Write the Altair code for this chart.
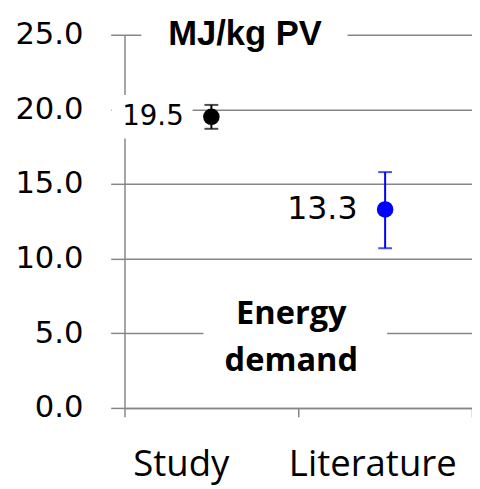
import altair as alt
import pandas as pd

categories = ["Study", "Literature"]
values = [19.5, 13.3]
err_low = [18.7, 10.7]
err_high = [20.3, 15.8]
colors = ["#000000", "#0000FF"]
value_labels = ["19.5", "13.3"]
label_sizes = [28, 32]
y_ticks = [0, 5, 10, 15, 20, 25]
title_text = "MJ/kg PV"
note_text = ["Energy", "demand"]

df = pd.DataFrame({
    "cat": categories, "v": values, "lo": err_low, "hi": err_high,
    "color": colors, "label": value_labels, "fs": label_sizes,
})
one = pd.DataFrame({"a": [0]})

GRID = "#868686"

x = alt.X("cat:N", sort=categories,
          scale=alt.Scale(domain=categories, paddingInner=0, paddingOuter=0),
          axis=alt.Axis(title=None, labelAngle=0, tickBand="extent", grid=False,
                        domainColor=GRID, domainWidth=1.5, tickColor=GRID, tickWidth=1.5,
                        tickSize=9, labelFont="Open Sans", labelFontSize=37,
                        labelColor="black", labelBaseline="alphabetic", labelPadding=59,
                        labelOffset={"condition": {"test": "datum.value === 'Study'",
                                                   "value": -31}, "value": -13}))
y_axis = alt.Axis(title=None, values=y_ticks, format=".1f", grid=True, gridColor=GRID,
                  gridWidth=1.5, domainColor=GRID, domainWidth=1.5, tickColor=GRID,
                  tickWidth=1.5, tickSize=14, labelFont="DejaVu Sans", labelFontSize=31,
                  labelColor="black", labelPadding=28)
yscale = alt.Scale(domain=[0, 25], nice=False, zero=True)

base = alt.Chart(df)

axes = base.mark_point(opacity=0).encode(x=x, y=alt.Y("v:Q", scale=yscale, axis=y_axis))

bg_title = alt.Chart(one).mark_rect(color="white").encode(
    x=alt.value(17), x2=alt.value(226), y=alt.value(-12), y2=alt.value(12))
bg_label = alt.Chart(one).mark_rect(color="white").encode(
    x=alt.value(-13), x2=alt.value(69), y=alt.value(61), y2=alt.value(105))
bg_note = alt.Chart(one).mark_rect(color="white").encode(
    x=alt.value(80), x2=alt.value(266), y=alt.value(262), y2=alt.value(350))

bars = base.mark_rule(strokeWidth=2).encode(
    x="cat:N", y=alt.Y("lo:Q", scale=yscale), y2="hi:Q",
    color=alt.Color("color:N", scale=None))
caps_lo = base.mark_tick(size=14, thickness=2).encode(
    x="cat:N", y=alt.Y("lo:Q", scale=yscale), color=alt.Color("color:N", scale=None))
caps_hi = base.mark_tick(size=14, thickness=2).encode(
    x="cat:N", y=alt.Y("hi:Q", scale=yscale), color=alt.Color("color:N", scale=None))
points = base.mark_circle(size=280, opacity=1).encode(
    x="cat:N", y=alt.Y("v:Q", scale=yscale), color=alt.Color("color:N", scale=None))
labels = base.mark_text(align="right", baseline="middle", dx=-28, font="DejaVu Sans",
                        color="black").encode(
    x="cat:N", y=alt.Y("v:Q", scale=yscale), text="label:N",
    size=alt.Size("fs:Q", scale=None))

title = alt.Chart(one).mark_text(text=title_text, font="Liberation Sans", fontWeight="bold",
                                 fontSize=35, align="center", baseline="alphabetic",
                                 color="black").encode(x=alt.value(122), y=alt.value(10))
note = alt.Chart(one).mark_text(text=note_text, font="Open Sans", fontWeight="bold",
                                fontSize=33, align="center", baseline="alphabetic",
                                lineHeight=48, color="black").encode(
    x=alt.value(169), y=alt.value(293))

chart = alt.layer(axes, bg_title, bg_label, bg_note, bars, caps_lo, caps_hi, points,
                  labels, title, note).properties(
    width=352, height=378,
    autosize=alt.AutoSizeParams(type="none"),
    padding={"left": 118, "top": 24, "right": 0, "bottom": 78},
).configure_view(stroke=None)

chart.save("out.html", embed_options={"renderer": "svg", "actions": False})
